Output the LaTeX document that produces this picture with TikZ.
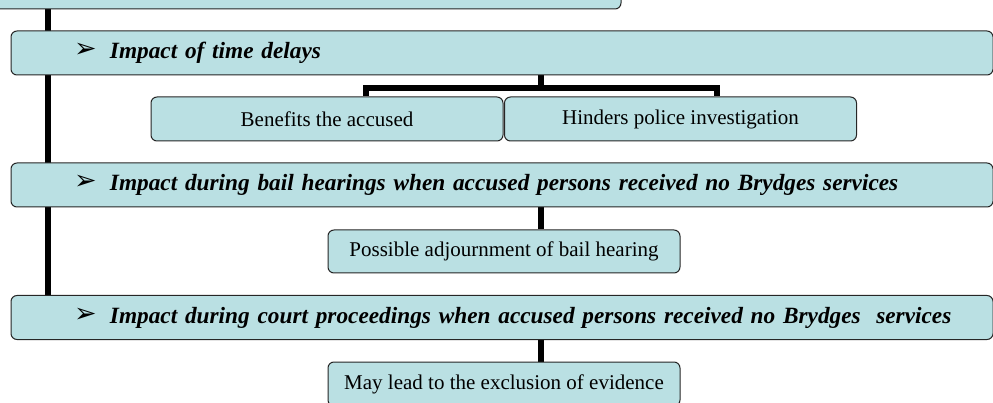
\documentclass[tikz,border=0pt]{standalone}
\usetikzlibrary{backgrounds}
\usepackage{fontspec}
\setmainfont{Liberation Serif}
\newfontfamily\symfont{DejaVu Sans}
\definecolor{boxblue}{RGB}{186,224,227}

\newcommand{\headtext}[1]{\hspace*{63pt}\makebox[36pt][l]{\symfont\fontsize{27}{27}\selectfont\raisebox{1pt}{➢}}\textbf{\textit{#1}}}

\begin{document}
\begin{tikzpicture}[x=1pt, y=-1pt,
    box/.style={draw=black!85, line width=1pt, fill=boxblue, rounded corners=6pt},
    headbox/.style={box, text width=982pt, minimum height=44pt, inner xsep=0pt, align=left,
      font=\fontsize{23.3}{28}\selectfont},
    itembox/.style={box, minimum width=352pt, minimum height=44pt,
      font=\fontsize{21}{25}\selectfont},
    link/.style={line width=5.5pt}]
      \clip (0,0) rectangle (993,403);
      \node[box, minimum width=700pt, minimum height=44pt] (top) at (271,-13) {};
      \node[headbox] (time) at (502,53) {\headtext{Impact of time delays}};
      \node[itembox] (benefits) at (327,119) {Benefits the accused};
      \node[itembox] (hinders) at (680.5,119) {Hinders police investigation};
      \node[headbox] (bail) at (502,185) {\headtext{Impact during bail hearings when accused persons received no Brydges services}};
      \node[itembox, minimum height=43pt] (possible) at (504,251.5) {Possible adjournment of bail hearing};
      \node[headbox] (court) at (502,317.5) {\headtext{Impact during court proceedings when accused persons received no Brydges\ \ services}};
      \node[itembox] (exclusion) at (504,384) {May lead to the exclusion of evidence};
      \coordinate (spine) at (48,0);
      \coordinate (tap) at (541,0);
      \coordinate (fork) at (541,88);
      \coordinate (forkl) at (366,88);
      \coordinate (forkr) at (717,88);
      \begin{scope}[on background layer]
        \draw[link] (top.south -| spine) -- (court.north -| spine);
        \draw[link] (time.south -| fork) -- (fork);
        \draw[link] (forkl |- benefits.north) -- (forkl) -- (forkr) -- (forkr |- hinders.north);
        \draw[link] (bail.south -| tap) -- (possible.north -| tap);
        \draw[link] (court.south -| tap) -- (exclusion.north -| tap);
      \end{scope}
    \end{tikzpicture}
\end{document}
